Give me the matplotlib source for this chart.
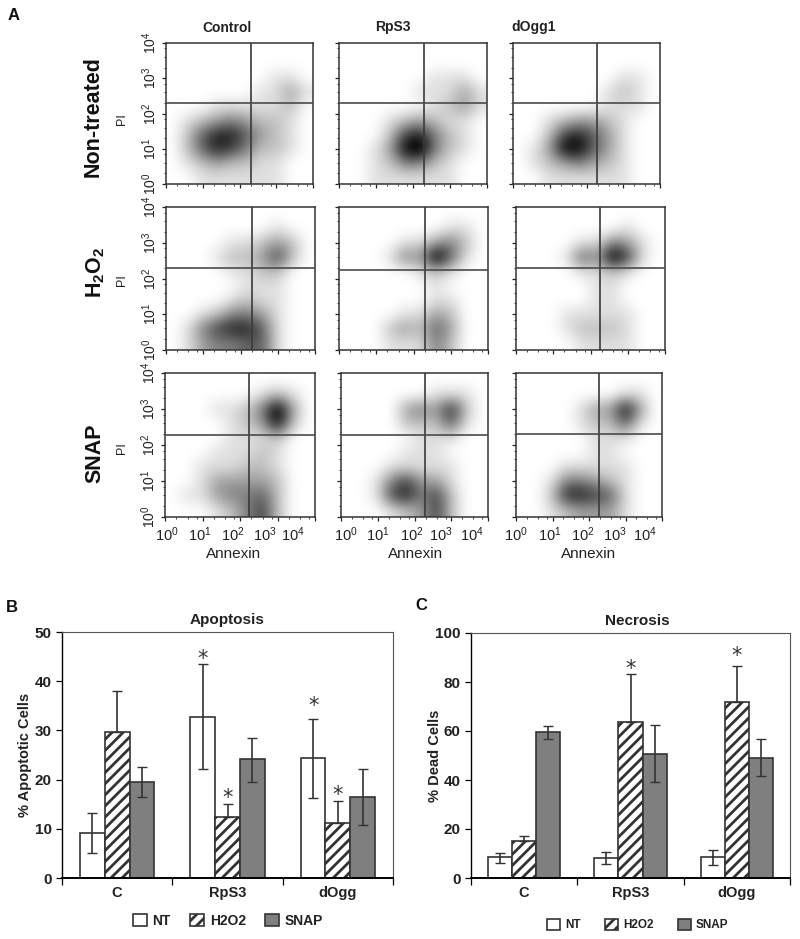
import numpy as np
import matplotlib
matplotlib.use("Agg")
import matplotlib.pyplot as plt
from matplotlib.patches import Patch

"""
Flow cytometry panels (A) and apoptosis / necrosis bars (B, C).
The dot plots are given as coarse density grids read off the picture, 0-9 darkness.
Rows go from the top of the plot down, columns go left to right.
"""

plt.rcParams['font.family'] = ['Liberation Sans', 'DejaVu Sans']
plt.rcParams['mathtext.fontset'] = 'custom'
plt.rcParams['mathtext.rm'] = 'Liberation Sans'
plt.rcParams['mathtext.bf'] = 'Liberation Sans:bold'
plt.rcParams['mathtext.default'] = 'regular'
plt.rcParams['hatch.linewidth'] = 2.0

W, H = 800, 939
DARK = "#222222"

columnTitles = ["Control", "RpS3", "dOgg1"]
rowTitles = ["Non-treated", r"$\mathbf{H_2O_2}$", "SNAP"]

nt_control = [[0,0,0,0,0,0,0,0,0,0],[0,0,0,0,0,0,0,0,0,0],[0,0,0,0,0,0,0,1,1,0],[0,0,0,0,0,0,1,1,3,1],[0,0,0,1,1,1,1,1,2,0],
              [0,1,2,3,4,3,2,2,1,0],[0,2,5,7,7,5,3,2,1,0],[0,2,5,7,6,4,2,2,1,0],[0,1,2,3,2,2,1,1,0,0],[0,0,1,1,1,1,1,1,0,0]]
nt_rps3 = [[0,0,0,0,0,0,0,0,0,0],[0,0,0,0,0,0,0,0,0,0],[0,0,0,0,0,0,1,1,1,0],[0,0,0,0,0,1,1,1,3,1],[0,0,0,0,0,0,1,2,3,1],
           [0,0,0,1,2,3,2,1,1,0],[0,0,0,2,6,7,4,2,1,0],[0,0,1,3,8,9,4,2,1,0],[0,0,1,2,4,4,2,1,0,0],[0,0,1,1,1,1,1,1,0,0]]
nt_dogg = [[0,0,0,0,0,0,0,0,0,0],[0,0,0,0,0,0,0,0,0,0],[0,0,0,0,0,0,0,1,1,0],[0,0,0,0,0,0,1,2,1,0],[0,0,0,0,0,0,1,1,1,0],
           [0,0,1,2,3,3,2,1,0,0],[0,0,2,6,7,5,3,1,0,0],[0,1,3,8,8,5,3,1,0,0],[0,1,2,3,4,3,2,1,0,0],[0,0,1,1,1,1,1,1,0,0]]
h2o2_control = [[0,0,0,0,0,0,0,0,0,0],[0,0,0,0,0,0,0,1,0,0],[0,0,0,0,1,1,2,3,2,0],[0,0,0,1,2,2,3,6,2,0],[0,0,0,0,1,1,2,2,0,0],
                [0,0,0,0,0,1,1,1,0,0],[0,0,0,0,1,2,1,1,0,0],[0,0,1,2,4,4,3,1,0,0],[0,1,4,6,7,7,5,1,0,0],[0,1,3,4,4,5,5,1,0,0]]
h2o2_rps3 = [[0,0,0,0,0,0,0,0,0,0],[0,0,0,0,0,0,0,1,1,0],[0,0,0,0,1,1,3,4,2,0],[0,0,0,1,4,3,9,5,1,0],[0,0,0,0,0,1,2,1,0,0],
             [0,0,0,0,0,0,1,0,0,0],[0,0,0,0,0,0,1,1,0,0],[0,0,0,0,1,1,3,2,0,0],[0,0,0,2,3,2,5,3,0,0],[0,0,0,1,1,1,4,2,0,0]]
h2o2_dogg = [[0,0,0,0,0,0,0,0,0,0],[0,0,0,0,0,0,0,1,0,0],[0,0,0,0,1,1,4,3,1,0],[0,0,0,1,5,3,9,6,1,0],[0,0,0,0,1,1,2,1,0,0],
             [0,0,0,0,0,1,1,0,0,0],[0,0,0,0,0,1,1,0,0,0],[0,0,0,1,1,1,1,1,0,0],[0,0,0,1,2,2,2,1,0,0],[0,0,0,0,1,1,1,1,0,0]]
snap_control = [[0,0,0,0,0,0,0,0,0,0],[0,0,0,0,0,0,1,2,1,0],[0,0,0,1,1,2,4,9,3,0],[0,0,0,0,1,2,3,8,2,0],[0,0,0,0,1,1,1,2,0,0],
                [0,0,0,1,1,1,2,1,0,0],[0,0,1,1,1,2,2,1,0,0],[0,0,1,3,3,3,3,2,0,0],[0,1,1,3,4,4,5,2,0,0],[0,0,0,1,2,4,6,2,0,0]]
snap_rps3 = [[0,0,0,0,0,0,0,0,0,0],[0,0,0,0,0,0,1,1,1,0],[0,0,0,0,3,4,3,7,2,0],[0,0,0,0,2,2,2,5,1,0],[0,0,0,0,0,1,1,1,0,0],
             [0,0,0,0,1,1,1,0,0,0],[0,0,0,1,1,1,1,1,0,0],[0,0,1,4,6,3,3,1,0,0],[0,0,1,6,7,4,6,2,0,0],[0,0,0,1,2,3,6,2,0,0]]
snap_dogg = [[0,0,0,0,0,0,0,0,0,0],[0,0,0,0,0,0,0,1,1,0],[0,0,0,0,1,3,3,8,3,0],[0,0,0,0,1,2,2,5,1,0],[0,0,0,0,0,1,1,1,0,0],
             [0,0,0,0,0,1,1,0,0,0],[0,0,0,1,1,1,1,1,0,0],[0,0,1,4,4,3,2,1,0,0],[0,0,2,7,7,6,5,1,0,0],[0,0,1,2,3,3,3,1,0,0]]

# quadrant gates in decades, (annexin, PI)
gates = [[(2.30, 2.30), (2.30, 2.30), (2.28, 2.30)],
         [(2.30, 2.28), (2.30, 2.25), (2.25, 2.28)],
         [(2.25, 2.28), (2.28, 2.28), (2.27, 2.31)]]

categories = ["C", "RpS3", "dOgg"]
seriesNames = ["NT", "H2O2", "SNAP"]

apoptosisValues = [[9.1, 32.8, 24.3], [29.7, 12.3, 11.2], [19.5, 24.1, 16.5]]
apoptosisLow = [[5.0, 22.2, 16.3], [29.7, 12.3, 11.2], [16.4, 19.6, 10.8]]
apoptosisHigh = [[13.2, 43.4, 32.4], [38.0, 15.0, 15.6], [22.6, 28.5, 22.1]]
# (group, series, height)
apoptosisStars = [(1, 0, 44.6), (1, 1, 16.3), (2, 0, 34.9), (2, 1, 16.9)]

necrosisValues = [[8.5, 8.2, 8.5], [15.3, 63.6, 71.8], [59.4, 50.5, 49.0]]
necrosisLow = [[6.3, 5.8, 5.5], [15.3, 63.6, 71.8], [56.6, 39.0, 41.5]]
necrosisHigh = [[10.3, 10.5, 11.5], [17.0, 83.2, 86.5], [62.0, 62.4, 56.7]]
necrosisStars = [(1, 1, 85.5), (2, 1, 90.5)]

# where the x tick labels sit along each bottom panel, they do not line up with the ticks
xLabelPositions = [[0.01, 0.23, 0.45, 0.667, 0.85], [0.03, 0.25, 0.48, 0.68, 0.89], [0.0, 0.23, 0.46, 0.68, 0.88]]
annexinPositions = [0.46, 0.51, 0.5]


def axesFromPixels(fig, left, top, right, bottom):
    return fig.add_axes([left / W, 1 - bottom / H, (right - left) / W, (bottom - top) / H])


def plotDotPanel(ax, grid, gate, column, showXLabels):
    """
    Draws one annexin / PI panel from its density grid.
    """
    ax.imshow(np.array(grid), extent=[0, 4, 0, 4], origin="upper", cmap="gray_r", vmin=0, vmax=8,
              interpolation="bicubic", aspect="auto", zorder=1)
    ax.axvline(gate[0], color="#3a3a3a", lw=1.2, zorder=3)
    ax.axhline(gate[1], color="#4a4a4a", lw=1.2, zorder=3)
    ax.set_xlim(0, 4)
    ax.set_ylim(0, 4)
    decades = np.arange(5)
    minor = [d + np.log10(m) for d in range(4) for m in [2, 4, 7]]
    ax.set_xticks(decades)
    ax.set_yticks(decades)
    ax.set_xticks(minor, minor=True)
    ax.set_yticks(minor, minor=True)
    ax.tick_params(which="major", length=3, width=0.9, color=DARK)
    ax.tick_params(which="minor", length=1.5, width=0.6, color=DARK)
    ax.set_xticklabels([])
    if column == 0:
        ax.set_yticklabels([r"$10^{%d}$" % d for d in decades], rotation=90, va="center", fontsize=10, color=DARK)
    else:
        ax.set_yticklabels([])
    ax.tick_params(axis="y", pad=2)
    for spine in ax.spines.values():
        spine.set_linewidth(1.1)
        spine.set_color("#333333")
    if showXLabels:
        for d, pos in zip(decades, xLabelPositions[column]):
            ax.text(pos, -0.06, r"$10^{%d}$" % d, transform=ax.transAxes, ha="center", va="top",
                    fontsize=10.5, color=DARK)
        ax.text(annexinPositions[column], -0.21, "Annexin", transform=ax.transAxes, ha="center", va="top",
                fontsize=11, color=DARK)


def plotBars(ax, values, low, high, stars, yMax, yStep, title, yLabel, barWidth, titleX, labelPad):
    x = np.arange(len(categories))
    for i, name in enumerate(seriesNames):
        pos = x + (i - 1) * barWidth
        style = {"NT": {"facecolor": "white"},
                 "H2O2": {"facecolor": "white", "hatch": "///"},
                 "SNAP": {"facecolor": "#7f7f7f"}}[name]
        ax.bar(pos, values[i], barWidth, edgecolor="#333333", linewidth=1.2, zorder=2, **style)
        lower = np.array(values[i]) - np.array(low[i])
        upper = np.array(high[i]) - np.array(values[i])
        ax.errorbar(pos, values[i], yerr=[lower, upper], fmt="none", ecolor="#333333", elinewidth=1.2,
                    capsize=3.5, capthick=1.0, zorder=3)
    for group, series, height in stars:
        ax.text(group + (series - 1) * barWidth, height, "*", ha="center", va="center", fontsize=15,
                color="#333333", family="DejaVu Sans", zorder=4)
    ax.set_xlim(-0.5, 2.5)
    ax.set_ylim(0, yMax)
    ax.set_xticks([-0.5, 0.5, 1.5, 2.5])
    ax.set_xticklabels([])
    ax.set_xticks(x, minor=True)
    ax.set_xticklabels(categories, minor=True, fontsize=10.5, fontweight="bold", color=DARK)
    ax.tick_params(axis="x", which="minor", length=0, pad=6)
    ax.tick_params(axis="x", which="major", length=5, width=0.9)
    ax.set_yticks(np.arange(0, yMax + 1, yStep))
    ax.tick_params(axis="y", length=4, width=0.9, labelsize=11, labelcolor=DARK)
    for label in ax.get_yticklabels():
        label.set_fontweight("bold")
    ax.set_ylabel(yLabel, fontsize=10.5, fontweight="bold", color=DARK, labelpad=labelPad)
    ax.set_title(title, x=titleX, fontsize=11, fontweight="bold", color=DARK, pad=6)
    for side in ["top", "right"]:
        ax.spines[side].set_linewidth(0.8)
        ax.spines[side].set_color("#555555")
    ax.spines["bottom"].set_linewidth(1.4)
    ax.spines["left"].set_linewidth(1.0)


def legendHandles():
    return [Patch(facecolor="white", edgecolor="#333333", lw=1.2),
            Patch(facecolor="white", edgecolor="#333333", lw=1.2, hatch="///"),
            Patch(facecolor="#7f7f7f", edgecolor="#333333", lw=1.2)]


fig = plt.figure(figsize=(W / 100, H / 100), dpi=100)

panelGrids = [[nt_control, nt_rps3, nt_dogg], [h2o2_control, h2o2_rps3, h2o2_dogg], [snap_control, snap_rps3, snap_dogg]]
columnEdges = [[(166, 313), (339, 487), (513, 660)],
               [(166, 315), (339, 488), (516, 665)],
               [(165, 315), (341, 488), (516, 662)]]
rowEdges = [(43, 184), (207, 350), (373, 517)]

for r in range(3):
    for c in range(3):
        left, right = columnEdges[r][c]
        top, bottom = rowEdges[r]
        ax = axesFromPixels(fig, left, top, right, bottom)
        plotDotPanel(ax, panelGrids[r][c], gates[r][c], c, r == 2)

for title, x, y in zip(columnTitles, [227, 393, 534], [28, 27, 27]):
    fig.text(x / W, 1 - y / H, title, ha="center", va="center", fontsize=10, fontweight="bold", color=DARK)

for title, y, x in zip(rowTitles, [117, 272, 453], [93, 96, 95]):
    fig.text(x / W, 1 - y / H, title, rotation=90, ha="center", va="center", fontsize=15.5, fontweight="bold", color="#111111")

for y in [119, 280, 448]:
    fig.text(122 / W, 1 - y / H, "PI", rotation=90, ha="center", va="center", fontsize=9, color=DARK)

for letter, x, y in [("A", 14, 15), ("B", 12, 607), ("C", 421, 605)]:
    fig.text(x / W, 1 - y / H, letter, ha="center", va="center", fontsize=12, fontweight="bold", color="#111111")

axB = axesFromPixels(fig, 62, 632, 393, 878)
plotBars(axB, apoptosisValues, apoptosisLow, apoptosisHigh, apoptosisStars, 50, 10, "Apoptosis", "% Apoptotic Cells", 0.224, 0.5, 2)
axC = axesFromPixels(fig, 471, 633, 790, 878)
plotBars(axC, necrosisValues, necrosisLow, necrosisHigh, necrosisStars, 100, 20, "Necrosis", "% Dead Cells", 0.226, 0.522, -5)

fig.legend(legendHandles(), seriesNames, loc="center", bbox_to_anchor=(228 / W, 1 - 921 / H), ncol=3, frameon=False,
           handlelength=1.0, handleheight=1.0, handletextpad=0.4, columnspacing=1.4,
           prop={"weight": "bold", "size": 10}, labelcolor=DARK)
fig.legend(legendHandles(), seriesNames, loc="center", bbox_to_anchor=(638 / W, 1 - 925 / H), ncol=3, frameon=False,
           handlelength=1.1, handleheight=1.1, handletextpad=0.4, columnspacing=2.1,
           prop={"weight": "bold", "size": 8.5}, labelcolor=DARK)

fig.savefig("out.png", dpi=100)
plt.close(fig)
